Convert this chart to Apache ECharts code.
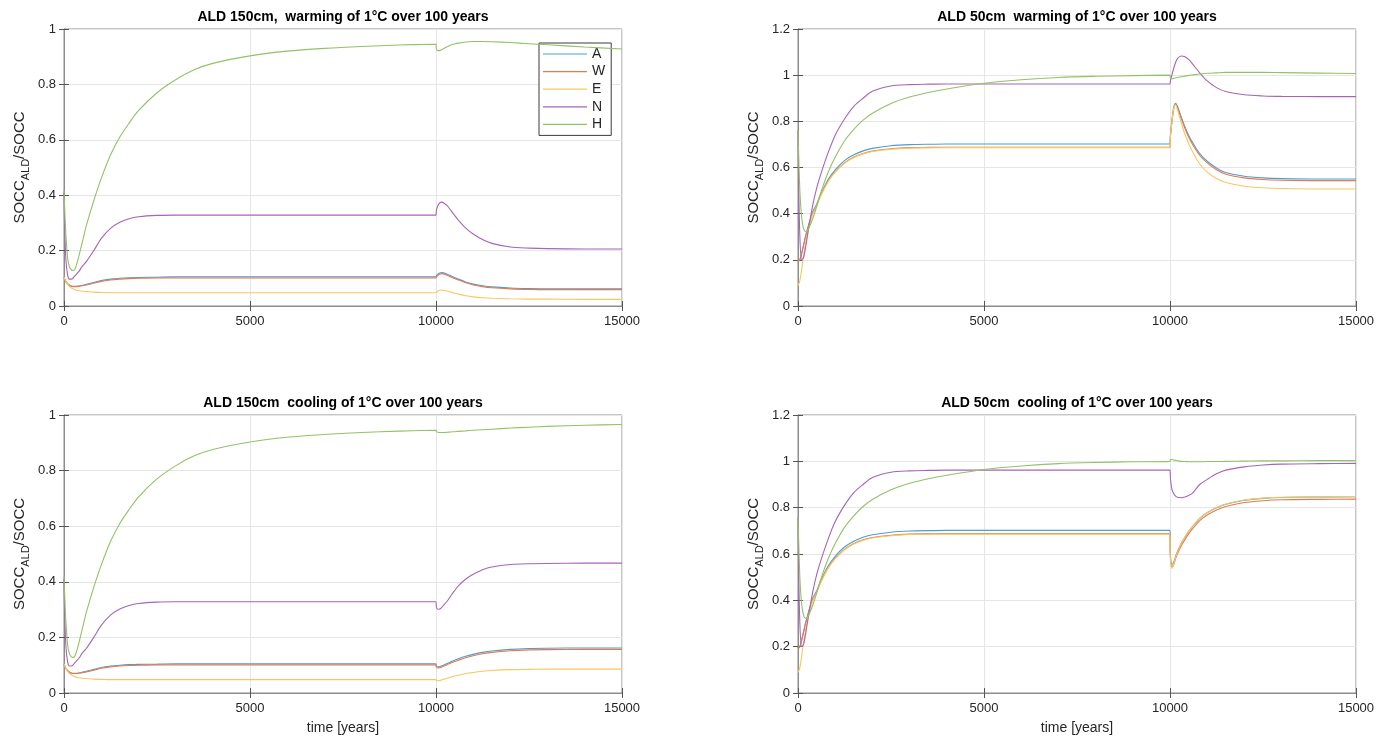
<!DOCTYPE html>
<html><head><meta charset="utf-8">
<script src="https://cdn.jsdelivr.net/npm/echarts@6/dist/echarts.min.js"></script>
<style>html,body{margin:0;padding:0;background:#fff}#c{width:1393px;height:740px}</style>
</head><body><div id="c"></div>
<script>
// time points (years)
const T_PRE = [0,10,50,100,150,200,250,300,400,500,600,800,1000,1250,1500,1750,2000,2500,3000,3500,4000,5000,6000,7000,8000,9000,10000];
const T_POST = [10010,10050,10100,10150,10200,10300,10400,10500,10600,10800,11000,11250,11500,12000,12500,13000,14000,15000];
const SERIES_NAMES = ['A','W','E','N','H'];
const TITLES = ['ALD 150cm,  warming of 1°C over 100 years','ALD 50cm  warming of 1°C over 100 years','ALD 150cm  cooling of 1°C over 100 years','ALD 50cm  cooling of 1°C over 100 years'];
const X_TICKS = [0,5000,10000,15000];

// ALD 150cm, spin-up (0..10000)
const p150_A = [0.105,0.100,0.088,0.080,0.075,0.072,0.071,0.071,0.072,0.075,0.078,0.085,0.092,0.097,0.100,0.102,0.103,0.104,0.105,0.105,0.105,0.105,0.105,0.105,0.105,0.105,0.105];
const p150_W = [0.105,0.100,0.088,0.080,0.075,0.071,0.070,0.070,0.071,0.073,0.076,0.082,0.089,0.094,0.097,0.099,0.100,0.101,0.101,0.101,0.101,0.101,0.101,0.101,0.101,0.101,0.101];
const p150_E = [0.105,0.100,0.088,0.078,0.070,0.065,0.061,0.058,0.055,0.053,0.052,0.050,0.049,0.048,0.048,0.048,0.048,0.048,0.048,0.048,0.048,0.048,0.048,0.048,0.048,0.048,0.048];
const p150_N = [0.410,0.330,0.170,0.110,0.097,0.097,0.102,0.110,0.125,0.145,0.160,0.200,0.243,0.280,0.302,0.315,0.322,0.327,0.328,0.328,0.328,0.328,0.328,0.328,0.328,0.328,0.328];
const p150_H = [0.420,0.380,0.260,0.170,0.140,0.130,0.128,0.135,0.180,0.235,0.290,0.380,0.460,0.545,0.610,0.660,0.705,0.770,0.817,0.853,0.876,0.903,0.920,0.930,0.937,0.942,0.945];
// ALD 150cm warming (10000..15000)
const w150_A = [0.109,0.115,0.119,0.121,0.120,0.115,0.109,0.103,0.097,0.087,0.079,0.073,0.069,0.065,0.063,0.062,0.062,0.062];
const w150_W = [0.105,0.111,0.115,0.117,0.116,0.111,0.105,0.099,0.094,0.084,0.076,0.070,0.066,0.062,0.060,0.059,0.059,0.059];
const w150_E = [0.050,0.054,0.057,0.058,0.057,0.054,0.050,0.046,0.043,0.037,0.033,0.030,0.028,0.026,0.025,0.025,0.024,0.024];
const w150_N = [0.345,0.362,0.372,0.375,0.373,0.362,0.345,0.327,0.310,0.281,0.260,0.240,0.226,0.213,0.209,0.207,0.206,0.206];
const w150_H = [0.928,0.922,0.922,0.925,0.929,0.936,0.942,0.946,0.949,0.953,0.955,0.955,0.954,0.951,0.947,0.943,0.935,0.928];
// ALD 150cm cooling
const c150_A = [0.096,0.094,0.095,0.097,0.100,0.106,0.112,0.118,0.123,0.132,0.139,0.146,0.151,0.157,0.160,0.161,0.162,0.162];
const c150_W = [0.092,0.090,0.091,0.093,0.096,0.102,0.108,0.113,0.118,0.127,0.134,0.141,0.146,0.152,0.155,0.156,0.157,0.157];
const c150_E = [0.045,0.044,0.045,0.047,0.049,0.053,0.057,0.061,0.064,0.070,0.074,0.078,0.081,0.084,0.085,0.086,0.086,0.086];
const c150_N = [0.310,0.301,0.302,0.307,0.315,0.330,0.350,0.368,0.385,0.410,0.427,0.443,0.453,0.462,0.465,0.466,0.467,0.467];
const c150_H = [0.940,0.938,0.937,0.937,0.937,0.938,0.939,0.940,0.941,0.943,0.945,0.947,0.949,0.953,0.956,0.959,0.963,0.966];

// ALD 50cm, spin-up
const p50_A = [0.200,0.195,0.200,0.230,0.265,0.300,0.330,0.360,0.410,0.440,0.480,0.545,0.590,0.630,0.655,0.672,0.683,0.694,0.699,0.701,0.702,0.702,0.702,0.702,0.702,0.702,0.702];
const p50_W = [0.200,0.195,0.200,0.228,0.262,0.297,0.327,0.357,0.405,0.435,0.475,0.538,0.582,0.620,0.645,0.661,0.671,0.681,0.686,0.687,0.688,0.688,0.688,0.688,0.688,0.688,0.688];
const p50_E = [0.088,0.090,0.110,0.160,0.220,0.270,0.310,0.345,0.400,0.433,0.473,0.536,0.580,0.618,0.643,0.659,0.669,0.679,0.684,0.685,0.686,0.686,0.686,0.686,0.686,0.686,0.686];
const p50_N = [0.760,0.600,0.300,0.200,0.210,0.250,0.300,0.350,0.440,0.510,0.565,0.660,0.740,0.810,0.865,0.900,0.930,0.953,0.959,0.961,0.962,0.962,0.962,0.962,0.962,0.962,0.962];
const p50_H = [0.760,0.700,0.500,0.380,0.335,0.322,0.325,0.340,0.380,0.430,0.485,0.575,0.645,0.715,0.765,0.805,0.835,0.877,0.905,0.925,0.940,0.965,0.980,0.990,0.995,0.998,1.000];
// ALD 50cm warming
const w50_A = [0.740,0.800,0.860,0.878,0.865,0.820,0.777,0.740,0.710,0.660,0.627,0.598,0.578,0.562,0.555,0.552,0.550,0.550];
const w50_W = [0.730,0.795,0.855,0.875,0.860,0.813,0.770,0.732,0.702,0.652,0.620,0.590,0.571,0.555,0.548,0.545,0.543,0.543];
const w50_E = [0.730,0.795,0.855,0.872,0.850,0.795,0.745,0.704,0.670,0.615,0.580,0.552,0.535,0.519,0.512,0.509,0.507,0.507];
const w50_N = [0.975,1.000,1.030,1.055,1.072,1.083,1.080,1.068,1.050,1.010,0.975,0.946,0.929,0.915,0.910,0.908,0.907,0.907];
const w50_H = [0.987,0.985,0.986,0.988,0.990,0.993,0.996,0.999,1.001,1.005,1.008,1.010,1.012,1.012,1.012,1.011,1.009,1.007];
// ALD 50cm cooling
const c50_A = [0.600,0.555,0.565,0.590,0.610,0.645,0.672,0.697,0.717,0.754,0.778,0.800,0.815,0.832,0.840,0.844,0.846,0.847];
const c50_W = [0.590,0.545,0.555,0.580,0.600,0.635,0.662,0.687,0.707,0.744,0.768,0.790,0.805,0.822,0.830,0.834,0.836,0.837];
const c50_E = [0.580,0.538,0.555,0.585,0.607,0.645,0.673,0.698,0.718,0.755,0.779,0.801,0.816,0.833,0.841,0.845,0.847,0.848];
const c50_N = [0.930,0.880,0.860,0.850,0.845,0.843,0.846,0.853,0.862,0.900,0.922,0.946,0.962,0.976,0.984,0.988,0.990,0.991];
const c50_H = [1.008,1.008,1.006,1.004,1.002,1.000,0.999,0.998,0.998,0.998,0.999,0.999,1.000,1.001,1.002,1.002,1.003,1.003];

const COLORS = ['#4f9bd6','#e57a4c','#f5c85e','#a764b6','#92c266'];

const PANELS = [
  {pre:[p150_A,p150_W,p150_E,p150_N,p150_H], post:[w150_A,w150_W,w150_E,w150_N,w150_H], ymax:1},
  {pre:[p50_A,p50_W,p50_E,p50_N,p50_H], post:[w50_A,w50_W,w50_E,w50_N,w50_H], ymax:1.2},
  {pre:[p150_A,p150_W,p150_E,p150_N,p150_H], post:[c150_A,c150_W,c150_E,c150_N,c150_H], ymax:1},
  {pre:[p50_A,p50_W,p50_E,p50_N,p50_H], post:[c50_A,c50_W,c50_E,c50_N,c50_H], ymax:1.2}
];
const GRIDS = [
  {left:64, right:771, top:29, bottom:434},
  {left:798, right:37, top:29, bottom:434},
  {left:64, right:771, top:415, bottom:47},
  {left:798, right:37, top:415, bottom:47}
];
const FONT = "'Liberation Sans', Arial, Helvetica, sans-serif";
const TXT = '#262626';
const TICK = {show:true, inside:false, length:-5, lineStyle:{color:'#555'}};

function pairs(pre, post){
  return T_PRE.map((t,i)=>[t,pre[i]]).concat(T_POST.map((t,i)=>[t,post[i]]));
}

const option = {
  animation:false,
  backgroundColor:'#fff',
  title: TITLES.map((t,i)=>({
    text:t, left: GRIDS[i].left + (1393-GRIDS[i].left-GRIDS[i].right)/2, textAlign:'center',
    top: i<2 ? 10 : 396, padding:0,
    textStyle:{fontFamily:FONT, fontSize:14, fontWeight:'bold', color:'#000'}
  })),
  legend:{
    data:SERIES_NAMES, orient:'vertical', left:539, top:43,
    icon:'path://M0,0 H44 V1.2 H0 Z',
    itemWidth:44, itemHeight:14, itemGap:3.6, padding:[4,6,4,4],
    backgroundColor:'#fff', borderColor:'#3a3a3a', borderWidth:1,
    textStyle:{fontFamily:FONT, fontSize:14, color:TXT}
  },
  grid: GRIDS.map(g=>Object.assign({show:true, borderColor:'#8c8c8c', borderWidth:1, backgroundColor:'#fff'}, g)),
  xAxis: [], yAxis: [], series: []
};

PANELS.forEach((p,g)=>{
  const bottomRow = g>=2;
  option.xAxis.push({
    type:'value', gridIndex:g, min:0, max:15000, interval:5000,
    name: bottomRow ? 'time [years]' : '', nameLocation:'middle', nameGap:28,
    nameTextStyle:{fontFamily:FONT, fontSize:14, color:TXT},
    axisLine:{show:true, lineStyle:{color:'#8c8c8c'}},
    axisTick:TICK,
    axisLabel:{fontFamily:FONT, fontSize:13, color:TXT, margin:9, formatter:v=>String(v)},
    splitLine:{show:true, lineStyle:{color:'#e6e6e6'}}
  });
  option.xAxis.push({
    type:'value', gridIndex:g, position:'top', min:0, max:15000, interval:5000,
    axisLine:{show:true, lineStyle:{color:'#8c8c8c'}},
    axisTick:TICK,
    axisLabel:{show:false}, splitLine:{show:false}
  });
  option.yAxis.push({
    type:'value', gridIndex:g, min:0, max:p.ymax, interval:0.2,
    name:'{a|SOCC}{b|ALD}{a|/SOCC}', nameLocation:'middle', nameGap:33, nameRotate:90,
    nameTextStyle:{fontFamily:FONT, color:TXT, rich:{
      a:{fontFamily:FONT, fontSize:15, color:TXT, lineHeight:22, verticalAlign:'middle'},
      b:{fontFamily:FONT, fontSize:11, color:TXT, lineHeight:22, verticalAlign:'bottom'}
    }},
    axisLine:{show:true, lineStyle:{color:'#8c8c8c'}},
    axisTick:TICK,
    axisLabel:{fontFamily:FONT, fontSize:13, color:TXT, margin:8},
    splitLine:{show:true, lineStyle:{color:'#e6e6e6'}}
  });
  option.yAxis.push({
    type:'value', gridIndex:g, position:'right', min:0, max:p.ymax, interval:0.2,
    axisLine:{show:true, lineStyle:{color:'#8c8c8c'}},
    axisTick:TICK,
    axisLabel:{show:false}, splitLine:{show:false}
  });
  SERIES_NAMES.forEach((n,k)=>{
    option.series.push({
      type:'line', name:n, xAxisIndex:2*g, yAxisIndex:2*g,
      data: pairs(p.pre[k], p.post[k]),
      symbol:'none', smooth:0.3,
      color: COLORS[k],
      lineStyle:{width:1.1, color:COLORS[k]},
      z: 2+k
    });
  });
});

const chart = echarts.init(document.getElementById('c'), null, {renderer:'canvas'});
chart.setOption(option);
</script>
</body></html>
